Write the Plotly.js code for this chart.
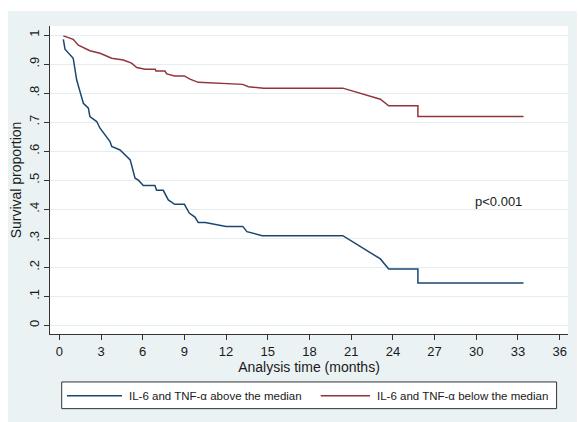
<!DOCTYPE html>
<html>
<head>
<meta charset="utf-8">
<script src="https://cdn.plot.ly/plotly-3.0.1.min.js"></script>
<style>
html,body{margin:0;padding:0;background:#ffffff;}
#chart{position:absolute;left:8px;top:11px;width:569px;height:411px;}
</style>
</head>
<body>
<div id="chart"></div>
<script>
// Kaplan-Meier estimates (months, survival proportion)
const aboveTime = [0.29, 0.41, 1.0, 1.25, 1.49, 1.73, 2.09, 2.2, 2.69, 2.93, 3.65, 3.77, 4.37, 5.1, 5.45, 5.69, 6.04, 6.88, 7.0, 7.48, 7.84, 8.3, 9.0, 9.35, 9.76, 10.0, 10.5, 12.0, 13.2, 13.5, 14.6, 20.4, 23.1, 23.7, 25.8, 25.8, 33.4];
const aboveSurv = [0.985, 0.951, 0.92, 0.845, 0.805, 0.765, 0.748, 0.719, 0.702, 0.679, 0.633, 0.616, 0.604, 0.57, 0.507, 0.500, 0.482, 0.482, 0.465, 0.465, 0.432, 0.417, 0.417, 0.387, 0.373, 0.354, 0.354, 0.341, 0.341, 0.323, 0.309, 0.309, 0.229, 0.194, 0.194, 0.146, 0.146];

const belowTime = [0.29, 1.0, 1.37, 2.2, 2.93, 3.77, 4.6, 5.2, 5.57, 6.17, 6.9, 6.95, 7.6, 7.73, 8.3, 9.0, 9.4, 10.0, 13.2, 13.6, 14.7, 20.4, 23.1, 23.7, 25.8, 25.8, 33.4];
const belowSurv = [0.997, 0.985, 0.965, 0.946, 0.937, 0.92, 0.914, 0.903, 0.888, 0.882, 0.882, 0.876, 0.876, 0.866, 0.859, 0.859, 0.848, 0.837, 0.830, 0.822, 0.817, 0.817, 0.779, 0.756, 0.756, 0.719, 0.719];

const seriesNames = ["IL-6 and TNF-\u03b1 above the median", "IL-6 and TNF-\u03b1 below the median"];
const xTicks = [0, 3, 6, 9, 12, 15, 18, 21, 24, 27, 30, 33, 36];
const yTicks = [0, 0.1, 0.2, 0.3, 0.4, 0.5, 0.6, 0.7, 0.8, 0.9, 1];
const yTickText = ["0", ".1", ".2", ".3", ".4", ".5", ".6", ".7", ".8", ".9", "1"];
const pText = "p<0.001";

const blue = "#1a476f";
const red = "#90353b";
const bg = "#eaf2f3";
const font = "Liberation Sans, Arial, sans-serif";

const traces = [
  {x: aboveTime, y: aboveSurv, mode: "lines", name: seriesNames[0], line: {color: blue, width: 1.5}, showlegend: false},
  {x: belowTime, y: belowSurv, mode: "lines", name: seriesNames[1], line: {color: red, width: 1.5}, showlegend: false}
];

const legY = -0.2001;
const layout = {
  width: 569, height: 411,
  paper_bgcolor: bg, plot_bgcolor: "#ffffff",
  margin: {l: 42, r: 9, t: 15, b: 88},
  font: {family: font, color: "#1a1a1a", size: 13},
  showlegend: false,
  xaxis: {
    range: [-0.67, 36.6], tickvals: xTicks, ticktext: xTicks.map(String),
    showgrid: false, zeroline: false, showline: true, linecolor: "#333", linewidth: 1,
    ticks: "outside", ticklen: 5, tickcolor: "#333",
    tickfont: {size: 13, family: font, color: "#1a1a1a"},
    title: {text: "Analysis time (months)", font: {size: 14, family: font, color: "#1a1a1a"}, standoff: 4}
  },
  yaxis: {
    range: [-0.0296, 1.031], tickvals: yTicks, ticktext: yTickText, tickangle: -90,
    showgrid: true, gridcolor: "#e4eef0", gridwidth: 1, zeroline: false,
    showline: true, linecolor: "#333", linewidth: 1,
    ticks: "outside", ticklen: 5, tickcolor: "#333",
    tickfont: {size: 13, family: font, color: "#1a1a1a"},
    title: {text: "Survival proportion", font: {size: 14, family: font, color: "#1a1a1a"}, standoff: 4}
  },
  shapes: [
    {type: "rect", xref: "paper", yref: "paper", x0: 0.0226, x1: 0.978, y0: -0.1557, y1: -0.2423,
     line: {color: "#333", width: 1}, fillcolor: "#ffffff", layer: "above"},
    {type: "line", xref: "paper", yref: "paper", x0: 0.0328, x1: 0.139, y0: legY, y1: legY,
     line: {color: blue, width: 1.5}},
    {type: "line", xref: "paper", yref: "paper", x0: 0.5226, x1: 0.6178, y0: legY, y1: legY,
     line: {color: red, width: 1.5}}
  ],
  annotations: [
    {xref: "paper", yref: "paper", x: 0.1486, y: legY, xanchor: "left", yanchor: "middle",
     text: seriesNames[0], showarrow: false, font: {size: 11.5, family: font, color: "#1a1a1a"}},
    {xref: "paper", yref: "paper", x: 0.6268, y: legY, xanchor: "left", yanchor: "middle",
     text: seriesNames[1], showarrow: false, font: {size: 11.5, family: font, color: "#1a1a1a"}},
    {xref: "x", yref: "y", x: 31.63, y: 0.427, xanchor: "center", yanchor: "middle",
     text: pText, showarrow: false, font: {size: 13, family: font, color: "#1a1a1a"}}
  ]
};

Plotly.newPlot("chart", traces, layout, {displayModeBar: false, staticPlot: true});
</script>
</body>
</html>
